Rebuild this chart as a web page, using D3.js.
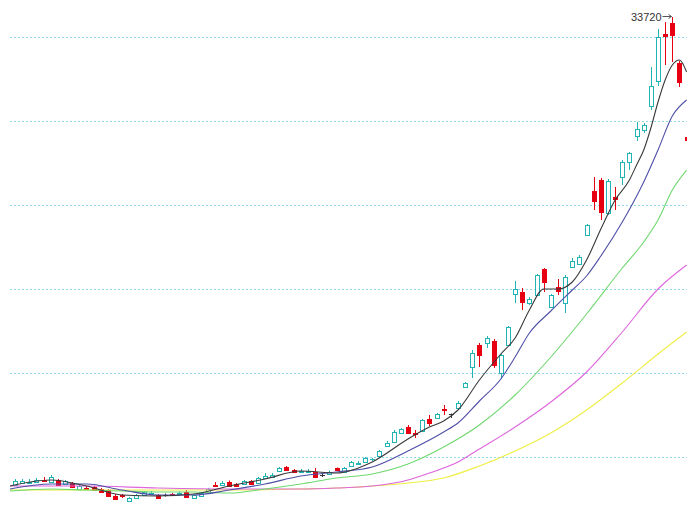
<!DOCTYPE html>
<html>
<head>
<meta charset="utf-8">
<script src="https://cdn.jsdelivr.net/npm/d3@7"></script>
<style>
  body { margin: 0; background: #fff; }
  svg { display: block; }
</style>
</head>
<body>
<div id="chart"></div>
<script>
// daily candles, [open, high, low, close]
var candles = [
  [10320,10620,10270,10520],[10420,10620,10370,10520],[10470,10620,10370,10495],[10470,10670,10420,10570],
  [10595,10720,10470,10545],[10470,10820,10445,10720],[10570,10620,10270,10320],[10370,10570,10320,10520],
  [10420,10470,10170,10220],[10145,10320,10120,10270],[10195,10270,10095,10145],[10220,10270,10020,10070],
  [10120,10170,9920,9970],[10070,10120,9720,9770],[9770,9870,9570,9620],[9820,9870,9670,9770],
  [9520,9720,9470,9670],[9670,9870,9620,9820],[9820,10020,9770,9970],[9895,10020,9820,9945],
  [9820,9870,9620,9670],[9820,9895,9745,9820],[9895,9920,9820,9845],[9895,9995,9845,9945],
  [9970,10070,9670,9720],[9670,9870,9620,9820],[9770,9970,9720,9920],[9945,10170,9920,10120],
  [10345,10470,10270,10295],[10320,10520,10270,10420],[10495,10545,10270,10320],[10370,10420,10220,10270],
  [10370,10570,10320,10520],[10520,10570,10320,10370],[10420,10720,10370,10670],[10695,10920,10645,10795],
  [10720,10920,10670,10820],[11020,11220,10970,11170],[11220,11270,11045,11070],[11070,11120,10945,10970],
  [11020,11120,10920,11045],[11020,11120,10920,11045],[10970,11170,10670,10720],[10820,10920,10720,10820],
  [10870,11045,10820,10970],[11170,11195,11070,11095],[10970,11220,10945,11170],[11270,11520,11220,11470],
  [11420,11520,11320,11445],[11470,11720,11420,11670],[11595,11670,11520,11620],[11770,12070,11720,12020],
  [12295,12520,12245,12420],[12495,13070,12420,12970],[12920,13170,12870,13120],[13220,13320,12870,12920],
  [12945,13070,12670,12895],[13020,13620,12970,13570],[13620,13820,13270,13420],[13670,13920,13620,13870],
  [14145,14320,13820,14120],[13870,13895,13670,13870],[14170,14520,14120,14420],[15220,15470,15170,15420],
  [16220,17070,15670,16920],[17320,17420,16220,16820],[17420,17770,17170,17670],[17520,17620,16170,16320],
  [15920,16870,15620,16820],[17320,18270,17270,18220],[19870,20520,19420,20120],[19970,20170,19070,19470],
  [19420,19720,19320,19620],[19820,20870,19770,20820],[21120,21170,19970,20470],[19220,19870,19170,19820],
  [20220,20620,19820,20020],[19420,20820,18920,20720],[21220,21670,21170,21520],[21370,21820,21320,21720],
  [22820,23370,22770,23320],[25020,25720,24070,24520],[25570,25670,23570,23970],[23920,25620,23820,25520],
  [24745,25220,24070,24670],[25720,26570,25320,26470],[26470,26970,26070,26920],[27770,28470,27520,28120],
  [28070,28420,27920,28320],[29270,31220,29070,30270],[30520,33120,30270,32720],[32870,33470,31320,32770],
  [33420,33720,31470,32820],[31420,31520,30220,30470],[27720,27870,27520,27570]
];

// moving averages, [candle index, value]
var ma5 = [[-0.7,10270],[5,10570],[10,10270],[15,9820],[20,9770],[25,9870],[30,10270],[35,10620],
  [40,11020],[45,10920],[50,11470],[55,12620],[58,13220],[60,13520],[62,14070],[65,15570],
  [68,16870],[70,17670],[72,19070],[74,20120],[76,20120],[78,20470],[80,21570],[82,23120],
  [84,24570],[86,25570],[87,26320],[88,27070],[89,28170],[90,29470],[91,30570],[92,31320],
  [93,31570],[94,30970]];
var ma10 = [[-0.7,10120],[5,10370],[10,10370],[15,10070],[20,9820],[25,9820],[30,10070],[35,10370],
  [40,10770],[45,10970],[50,11220],[55,12020],[60,12970],[62,13420],[65,14520],[68,15620],
  [70,16720],[72,17920],[75,19020],[78,20070],[80,20770],[82,21770],[85,23470],[88,25470],
  [90,27070],[92,28770],[94,29570]];
var ma20 = [[-0.7,10020],[5,10120],[10,10070],[15,10020],[20,9970],[25,9970],[30,9920],[35,10120],
  [40,10370],[45,10670],[50,10870],[55,11370],[60,12220],[65,13320],[70,14820],[75,16720],
  [80,18870],[85,21170],[88,22470],[90,23570],[92,25070],[94,26070]];
var ma30 = [[-0.7,10270],[10,10270],[20,10170],[30,10120],[40,10120],[45,10170],[50,10270],
  [55,10570],[58,10920],[62,11470],[65,12120],[70,13220],[75,14470],[80,15970],[85,17970],
  [90,20120],[94,21320]];
var ma60 = [[-0.7,10070],[10,10070],[20,10070],[30,10070],[40,10120],[45,10170],[50,10270],
  [55,10420],[60,10670],[65,11270],[70,12020],[75,12920],[80,14070],[85,15420],[90,16870],
  [94,17970]];

var gridVals = [11735, 15935, 20135, 24335, 28535, 32735];
var highLabel = 33720;
var highIndex = 92;

var width = 695;
var height = 511;

var upColor = "#22b4b4";
var downColor = "#e60012";
var flatColor = "#333333";

var svg = d3.select("#chart")
  .append("svg")
    .attr("width", width)
    .attr("height", height);

var x = d3.scaleLinear().domain([0, candles.length - 1]).range([15, 686.6]);
var y = d3.scaleLinear().domain([9620, 33720]).range([499, 17]);

svg.append("clipPath").attr("id", "plotclip")
  .append("rect").attr("x", 9).attr("y", 0).attr("width", 678).attr("height", height);

var plot = svg.append("g").attr("clip-path", "url(#plotclip)");

// dotted grid
plot.selectAll("line.grid")
  .data(gridVals).enter()
  .append("line")
    .attr("class", "grid")
    .attr("x1", 10).attr("x2", 687)
    .attr("y1", function(d) { return Math.round(y(d)) + 0.5; })
    .attr("y2", function(d) { return Math.round(y(d)) + 0.5; })
    .style("stroke", "#8fdbe8")
    .style("stroke-width", 1)
    .style("stroke-dasharray", "2,2");

// candles
function colorOf(d) {
  if (d[3] > d[0]) return upColor;
  if (d[3] < d[0]) return downColor;
  return flatColor;
}

var cg = plot.selectAll("g.candle")
  .data(candles).enter()
  .append("g")
    .attr("class", "candle");

cg.append("line")
  .attr("x1", function(d, i) { return Math.round(x(i)) + 0.5; })
  .attr("x2", function(d, i) { return Math.round(x(i)) + 0.5; })
  .attr("y1", function(d) { return y(d[1]); })
  .attr("y2", function(d) { return y(d[2]); })
  .style("stroke", colorOf)
  .style("stroke-width", 1);

cg.append("rect")
  .attr("x", function(d, i) { return Math.round(x(i)) - 1.5; })
  .attr("width", 4)
  .attr("y", function(d) { return Math.round(y(Math.max(d[0], d[3]))) + 0.5; })
  .attr("height", function(d) { return Math.max(0.01, Math.round(Math.abs(y(d[0]) - y(d[3])))); })
  .style("fill", function(d) { return d[3] > d[0] ? "#fff" : colorOf(d); })
  .style("stroke", colorOf)
  .style("stroke-width", 1);

// moving averages
var maLine = d3.line()
  .x(function(d) { return x(d[0]); })
  .y(function(d) { return y(d[1]); })
  .curve(d3.curveMonotoneX);

var maSeries = [
  { data: ma60, color: "#eeee44" },
  { data: ma30, color: "#dd66dd" },
  { data: ma20, color: "#6fd86f" },
  { data: ma10, color: "#4f4fa8" },
  { data: ma5, color: "#3a3a3a" }
];

plot.selectAll("path.ma")
  .data(maSeries).enter()
  .append("path")
    .attr("class", "ma")
    .attr("d", function(d) { return maLine(d.data); })
    .style("fill", "none")
    .style("stroke", function(d) { return d.color; })
    .style("stroke-width", 1.1);

// highest price marker
var hx = Math.round(x(highIndex)) + 0.5;
var hy = Math.round(y(highLabel)) - 0.5;
svg.append("text")
  .attr("x", hx - 11)
  .attr("y", hy + 4)
  .attr("text-anchor", "end")
  .style("font-family", "Liberation Sans, Arial, sans-serif")
  .style("font-size", "11px")
  .style("fill", "#333")
  .text(highLabel);
svg.append("path")
  .attr("d", "M" + (hx - 10) + "," + hy + "H" + (hx - 1) + "M" + (hx - 4) + "," + (hy - 2) + "L" + (hx - 1) + "," + hy + "L" + (hx - 4) + "," + (hy + 2))
  .style("fill", "none")
  .style("stroke", "#555")
  .style("stroke-width", 1);
</script>
</body>
</html>
